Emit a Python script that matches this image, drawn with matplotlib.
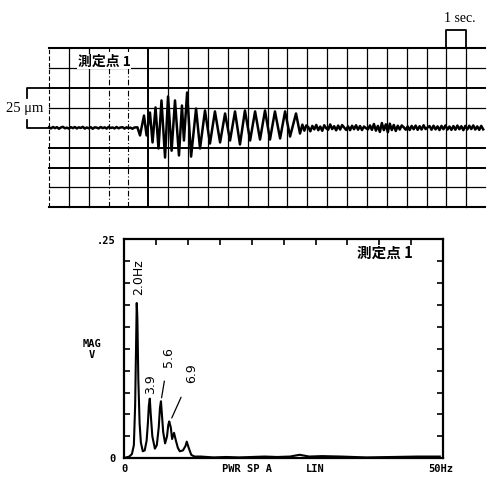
import numpy as np
import matplotlib
matplotlib.use("Agg")
import matplotlib.pyplot as plt

# ---------------- data: vibration record (time in s, displacement in um) ----------------
dt_noise = 0.1
pre_noise = [0.3, -0.4, 0.5, -0.2, 0.4, -0.6, 0.2, 0.6, -0.3, 0.1,
             -0.5, 0.4, -0.2, 0.5, -0.4, 0.3, -0.1, 0.6, -0.5, 0.2,
             -0.3, 0.4, -0.6, 0.3, 0.1, -0.4, 0.5, -0.2, 0.3, -0.5,
             0.6, -0.1, 0.2, -0.4, 0.5, -0.3, 0.2, 0.4, -0.5, 0.3,
             -0.2, 0.1, -0.6, 0.2]
event_t = [4.45, 4.58, 4.78, 4.91, 5.08, 5.21, 5.36, 5.51, 5.66, 5.84,
           5.99, 6.17, 6.34, 6.54, 6.69, 6.79, 6.95, 7.15, 7.40, 7.60,
           7.85, 8.10, 8.35, 8.61, 8.86, 9.11, 9.36, 9.61, 9.86, 10.12,
           10.37, 10.62, 10.87, 11.12, 11.37, 11.63, 11.88, 12.13, 12.43, 12.63]
event_v = [0.3, -4.8, 7.7, -4.8, 9.6, -9.2, 12.8, -13.0, 17.2, -18.7,
           19.7, -14.4, 17.2, -17.4, 14.0, -8.0, 22.2, -18.1, 12.1, -13.0,
           10.9, -9.9, 10.3, -9.2, 9.0, -8.0, 10.3, -10.5, 10.9, -8.0,
           10.3, -7.4, 10.9, -7.4, 10.3, -6.7, 10.3, -5.5, 9.0, -3.6]
post_start = 12.75
post_noise = [2.0, -1.8, 1.5, 0.4, -2.2, 1.2, -1.0, 1.8, -1.5, 0.8,
              -1.9, 1.6, -0.3, -1.2, 2.1, -0.8, 1.0, -1.6, 1.4, -1.1,
              1.7, 0.2, -1.3, 0.9, -1.5, 1.3, -0.9, 1.6, -1.2, 1.1,
              -1.4, 0.8, -0.2, -1.0, 1.5, -1.3, 2.4, -1.8, 1.2, -2.6,
              3.0, -1.5, 2.2, -2.8, 2.6, -1.4, 1.8, -2.0, 1.3, -1.1,
              1.5, 0.3, -1.2, 0.9, -1.4, 1.2, -0.9, 1.4, -1.3, 1.0,
              -1.1, 1.6, -0.8, 0.2, 1.1, -1.2, 1.3, -1.0, 0.9, -1.4,
              1.2, -0.9, 1.5, -1.1, 0.8, -1.3, 1.1, -1.2, 1.4, -0.9,
              1.0, -1.5, 1.2, -1.0, 1.3, -0.8, 1.5, -1.1, 0.9, -1.3,
              1.2, -1.0]

# ---------------- data: power spectrum ----------------
freq = [0.3, 0.8, 1.2, 1.5, 1.7, 1.85, 1.95, 2.05, 2.2, 2.4, 2.6, 2.9, 3.2, 3.5,
        3.7, 3.85, 4.0, 4.15, 4.4, 4.8, 5.1, 5.4, 5.6, 5.75, 5.9, 6.1, 6.4, 6.7,
        6.9, 7.05, 7.3, 7.5, 7.8, 8.1, 8.4, 8.7, 9.2, 9.6, 9.8, 10.1, 10.5, 11,
        12, 14, 16, 18, 20, 22, 24, 26, 27.5, 29, 31, 34, 38, 42, 46, 49.5]
mag = [0.001, 0.002, 0.005, 0.015, 0.06, 0.13, 0.177, 0.16, 0.09, 0.04, 0.018,
       0.008, 0.009, 0.02, 0.04, 0.06, 0.068, 0.05, 0.025, 0.011, 0.015, 0.035,
       0.058, 0.065, 0.05, 0.03, 0.017, 0.025, 0.038, 0.042, 0.035, 0.022, 0.029,
       0.02, 0.012, 0.008, 0.009, 0.014, 0.019, 0.012, 0.004, 0.002, 0.002, 0.001,
       0.0015, 0.001, 0.0015, 0.002, 0.0015, 0.002, 0.004, 0.002, 0.0025, 0.002,
       0.001, 0.0015, 0.002, 0.002]
peak_labels = ["2.0Hz", "3.9", "5.6", "6.9"]
peak_freqs = [2.0, 3.9, 5.75, 7.05]
peak_mags = [0.177, 0.068, 0.065, 0.042]

CJK = ["Noto Sans CJK JP", "DejaVu Sans"]
SERIF = ["Liberation Serif", "DejaVu Serif"]

fig = plt.figure(figsize=(5.03, 4.86), dpi=100)
W, H = 503.0, 486.0

# ================= top: chart-paper record =================
ax1 = fig.add_axes([49 / W, 1 - 207.3 / H, 436 / W, 159 / H])
ax1.set_xlim(0, 21.94)
ax1.set_ylim(-50, 50)
ax1.axis("off")

# horizontal grid lines (um)
hlines = [(50, 1.5, "-"), (37.5, 0.9, "-"), (25, 1.4, "-"), (12.5, 0.9, "-"),
          (-12.5, 1.4, "-"), (-25, 1.4, "-"), (-37.5, 0.9, "-"), (-50, 1.5, "-")]
for y, lw, ls in hlines:
    ax1.axhline(y, color="k", lw=lw, ls=ls, clip_on=False, zorder=1)
# vertical grid lines (s)
for i in range(0, 22):
    if i == 0:
        ax1.axvline(i, color="k", lw=0.8, ls=(0, (4, 2)), clip_on=False, zorder=1)
    elif i in (3, 4):
        ax1.axvline(i, color="k", lw=0.8, ls=(0, (5, 2, 1, 2)), clip_on=False, zorder=1)
    elif i == 5:
        ax1.axvline(i, color="k", lw=1.4, clip_on=False, zorder=1)
    else:
        ax1.axvline(i, color="k", lw=0.9, clip_on=False, zorder=1)

t_pre = np.arange(len(pre_noise)) * dt_noise
t_post = post_start + np.arange(len(post_noise)) * dt_noise
t_all = np.concatenate([t_pre, np.array(event_t), t_post])
v_all = np.concatenate([np.array(pre_noise), np.array(event_v), np.array(post_noise)])
ax1.plot(t_all, v_all, color="k", lw=1.8, zorder=3, clip_on=False)

# scale brackets
ax1.plot([20, 20, 21, 21], [50, 61.5, 61.5, 50], color="k", lw=1.3, clip_on=False)
ax1.text(20.66, 69, "1 sec.", ha="center", va="center", fontsize=10,
         family=SERIF, clip_on=False)
ax1.plot([0, -1.11, -1.11], [25, 25, 19], color="k", lw=1.3, clip_on=False)
ax1.plot([-1.11, -1.11, 0], [5, 0, 0], color="k", lw=1.3, clip_on=False)
ax1.text(-1.21, 12.0, "25 μm", ha="center", va="center", fontsize=10.5,
         family=SERIF, clip_on=False)
ax1.text(2.77, 41.8, "測定点 1", ha="center", va="center", fontsize=10,
         family=CJK, fontweight="bold",
         bbox=dict(facecolor="white", edgecolor="none", pad=0.5))

# ================= bottom: spectrum =================
ax2 = fig.add_axes([124.3 / W, 1 - 458.3 / H, 318.7 / W, 219.3 / H])
ax2.set_xlim(0, 50)
ax2.set_ylim(0, 0.25)
for s in ax2.spines.values():
    s.set_linewidth(1.6)
ax2.set_xticks(np.arange(5, 50, 5))
ax2.set_yticks(np.arange(0.025, 0.25, 0.025))
ax2.tick_params(axis="x", top=True, bottom=False, labeltop=False, labelbottom=False,
                direction="in", length=4, width=1.2)
ax2.tick_params(axis="y", left=True, right=True, labelleft=False, labelright=False,
                direction="in", length=4, width=1.2)
ax2.plot(freq, mag, color="k", lw=1.5)

ax2.text(2.3, 0.207, peak_labels[0], rotation=90, ha="center", va="center",
         fontsize=9, family="DejaVu Sans")
ax2.text(4.2, 0.084, peak_labels[1], rotation=90, ha="center", va="center",
         fontsize=9, family="DejaVu Sans")
ax2.annotate(peak_labels[2], xy=(peak_freqs[2] + 0.1, peak_mags[2] + 0.004),
             xytext=(6.9, 0.115), rotation=90, ha="center", va="center",
             fontsize=9, family="DejaVu Sans",
             arrowprops=dict(arrowstyle="-", color="k", lw=0.9, shrinkA=8, shrinkB=0))
ax2.annotate(peak_labels[3], xy=(peak_freqs[3] + 0.4, peak_mags[3] + 0.004),
             xytext=(10.6, 0.097), rotation=90, ha="center", va="center",
             fontsize=9, family="DejaVu Sans",
             arrowprops=dict(arrowstyle="-", color="k", lw=0.9, shrinkA=9, shrinkB=0))
ax2.text(0.817, 0.937, "測定点 1", transform=ax2.transAxes, ha="center", va="center",
         fontsize=10.5, family=CJK, fontweight="bold")

MONO = dict(family="DejaVu Sans Mono", fontweight="bold", fontsize=7.5)
fig.text(106 / W, 1 - 241 / H, ".25", ha="center", va="center", **MONO)
fig.text(112.5 / W, 1 - 459 / H, "0", ha="center", va="center", **MONO)
fig.text(92 / W, 1 - 344 / H, "MAG", ha="center", va="center", **MONO)
fig.text(92 / W, 1 - 355 / H, "V", ha="center", va="center", **MONO)
fig.text(125 / W, 1 - 469 / H, "0", ha="center", va="center", **MONO)
fig.text(247 / W, 1 - 469 / H, "PWR SP A", ha="center", va="center", **MONO)
fig.text(315 / W, 1 - 469 / H, "LIN", ha="center", va="center", **MONO)
fig.text(441 / W, 1 - 469 / H, "50Hz", ha="center", va="center", **MONO)

fig.savefig("out.png", dpi=100, facecolor="white")
